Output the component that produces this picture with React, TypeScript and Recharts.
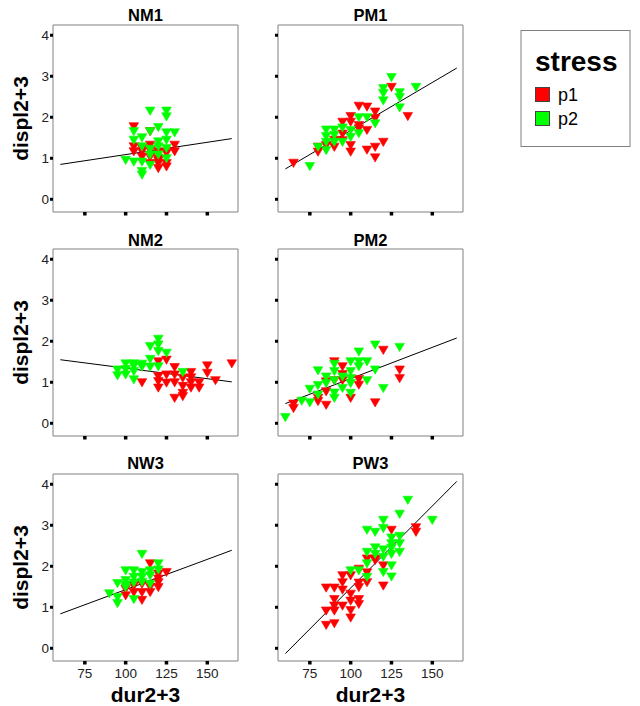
import React from 'react'
import { ComposedChart, Scatter, Line, XAxis, YAxis, ReferenceArea } from 'recharts'

const FONT = '"Liberation Sans", Arial, Helvetica, sans-serif'

const panelNames = ['NM1', 'PM1', 'NM2', 'PM2', 'NW3', 'PW3']
const groupNames = ['p1', 'p2']
const groupColors = ['#ff0000', '#00ff00']
const xTicks = [75, 100, 125, 150]
const yTicks = [0, 1, 2, 3, 4]
const xTitle = 'dur2+3'
const yTitle = 'displ2+3'
const legendTitle = 'stress'

// fitted line, value at dur = 60 and dur = 165
const fitX = [60, 165]
const fitAt60 = [0.85, 0.74, 1.55, 0.48, 0.84, -0.13]
const fitAt165 = [1.48, 3.2, 1.01, 2.08, 2.39, 4.07]

// [dur2+3, displ2+3]
const nm1P1 = [[105,1.78],[105,1.29],[105,1.17],[110,1.17],[115,1.33],[115,1.66],[120,1.17],[120,0.88],[120,0.76],[125,0.88],[125,1.13],[130,1.33],[130,1.17],[115,1.04],[110,1.04],[115,0.88],[125,0.8],[120,1.0],[110,1.25],[115,1.2],[120,0.95]]
const nm1P2 = [[115,2.16],[125,2.16],[125,2.02],[120,1.76],[130,1.63],[125,1.63],[115,1.66],[105,1.66],[105,1.45],[110,1.51],[120,1.41],[125,1.45],[110,1.29],[115,1.23],[120,1.29],[125,1.25],[100,0.96],[105,0.92],[110,0.92],[110,0.69],[110,0.6],[115,0.84],[115,1.09],[120,1.09],[125,1.0]]
const pm1P1 = [[65,0.89],[80,1.28],[80,1.16],[85,1.32],[90,1.28],[95,1.44],[95,1.89],[100,2.03],[100,1.89],[100,1.32],[100,1.16],[105,2.28],[105,1.81],[110,2.26],[110,1.69],[110,1.21],[115,2.14],[115,1.98],[115,1.28],[115,1.02],[120,1.4],[125,2.74],[135,2.03],[105,1.73],[95,1.6],[90,1.45]]
const pm1P2 = [[75,0.81],[125,2.98],[120,2.71],[120,2.59],[120,2.41],[130,2.61],[130,2.49],[130,2.24],[140,2.74],[105,2.0],[110,2.0],[115,1.85],[85,1.7],[90,1.7],[95,1.75],[85,1.54],[90,1.57],[85,1.4],[90,1.4],[95,1.4],[100,1.52],[105,1.61],[80,1.28],[85,1.2],[100,1.69]]
const nm2P1 = [[110,1.0],[120,1.51],[120,0.87],[125,1.55],[125,0.99],[130,1.37],[130,1.19],[130,1.0],[130,0.62],[135,1.11],[135,0.91],[135,0.74],[135,0.66],[140,1.25],[140,1.0],[140,0.87],[145,1.0],[145,0.87],[150,1.41],[150,1.23],[155,1.05],[165,1.46],[125,1.19],[120,1.15],[120,1.03],[140,1.12]]
const nm2P2 = [[95,1.31],[95,1.17],[100,1.46],[100,1.19],[105,1.46],[105,1.27],[105,1.07],[110,1.38],[115,1.88],[115,1.57],[115,1.38],[120,2.06],[120,1.92],[120,1.76],[120,1.39],[125,1.72],[135,1.25],[100,1.32],[110,1.45],[105,1.4]]
const pm2P1 = [[65,0.48],[65,0.37],[80,0.54],[85,0.78],[85,0.45],[90,1.51],[95,1.39],[95,1.05],[100,0.62],[105,1.08],[105,0.94],[115,0.51],[120,1.79],[130,1.31],[130,1.1],[85,1.02],[90,1.05],[80,0.62],[95,1.2]]
const pm2P2 = [[60,0.15],[70,0.55],[75,0.51],[75,0.84],[80,0.93],[80,1.29],[80,0.7],[85,1.14],[85,0.98],[90,1.45],[90,1.27],[90,0.75],[90,0.62],[95,1.14],[95,0.86],[100,1.51],[100,1.27],[100,0.98],[100,0.74],[105,1.75],[105,1.51],[105,1.39],[110,1.51],[110,1.05],[115,1.92],[115,1.31],[120,0.86],[130,1.86],[100,1.1],[90,1.05]]
const nw3P1 = [[100,1.29],[105,1.37],[110,1.18],[110,1.37],[115,1.37],[115,2.07],[120,1.82],[120,1.61],[120,1.49],[125,1.86],[110,1.57],[105,1.53],[115,1.5],[100,1.45],[120,1.7]]
const nw3P2 = [[90,1.34],[95,1.59],[95,1.25],[95,1.1],[100,1.9],[100,1.66],[100,1.49],[105,1.9],[105,1.2],[105,1.74],[110,2.3],[110,1.86],[110,1.74],[115,1.9],[115,1.78],[115,1.57],[120,2.07],[120,1.92],[105,1.6],[110,1.62],[100,1.55]]
const pw3P1 = [[140,2.95],[140,2.84],[125,2.89],[115,2.19],[110,2.19],[120,2.02],[115,2.15],[105,1.94],[95,1.78],[95,1.61],[100,1.78],[85,1.48],[90,1.48],[105,1.49],[110,1.61],[120,1.53],[95,1.43],[100,1.33],[100,1.16],[105,1.2],[105,1.08],[90,1.2],[90,1.04],[85,0.92],[95,1.04],[100,0.93],[100,0.75],[85,0.57],[90,0.61],[90,0.92],[110,1.85],[105,1.6]]
const pw3P2 = [[135,3.62],[150,3.13],[120,3.13],[130,3.28],[110,2.89],[115,2.84],[120,2.93],[125,2.7],[130,2.74],[130,2.56],[125,2.56],[115,2.46],[120,2.41],[110,2.35],[125,2.3],[130,2.35],[120,2.23],[110,2.07],[125,2.02],[120,1.86],[125,1.75],[100,1.9],[105,1.9],[110,1.74],[115,2.3],[125,2.45]]

const panelPoints = [
  [nm1P1, nm1P2],
  [pm1P1, pm1P2],
  [nm2P1, nm2P2],
  [pm2P1, pm2P2],
  [nw3P1, nw3P2],
  [pw3P1, pw3P2],
]

const X_DOMAIN = [55.5, 168.8]
const Y_DOMAIN = [-0.31, 4.25]
const COL_LEFT = [53, 278]
const ROW_TOP = [25, 249, 474]
const PW = 185
const PH = 187
const TITLE_BASE = [21, 246, 469]
// chart offsets of the plot area inside each little chart
const OX = 53
const OY = 5

const Triangle = (props: any) => {
  const { cx, cy, fill } = props
  if (cx == null || cy == null) return null
  return (
    <path
      d={`M${cx - 4.8},${cy - 3.6} L${cx + 4.8},${cy - 3.6} L${cx},${cy + 4.6} Z`}
      fill={fill}
      stroke={fill}
      strokeWidth={0.6}
    />
  )
}

const yTick = (show: boolean) => (props: any) => {
  const { y, payload } = props
  return (
    <g>
      <rect x={OX - 3} y={y - 1.5} width={3} height={3} fill="#000" />
      {show && (
        <text x={OX - 4} y={y + 4.8} textAnchor="end" fontSize={13.5} fontFamily={FONT} fill="#222">
          {payload.value}
        </text>
      )}
    </g>
  )
}

const xTick = (show: boolean) => (props: any) => {
  const { x, payload } = props
  return (
    <g>
      <rect x={x - 1.75} y={OY + PH} width={3.5} height={3.5} fill="#000" />
      {show && (
        <text x={x} y={OY + PH + 17} textAnchor="middle" fontSize={13.5} fontFamily={FONT} fill="#222">
          {payload.value}
        </text>
      )}
    </g>
  )
}

function Panel({ idx }: { idx: number }) {
  const col = idx % 2
  const row = Math.floor(idx / 2)
  const fit = fitX.map((x, i) => ({ x, y: i === 0 ? fitAt60[idx] : fitAt165[idx] }))
  return (
    <div style={{ position: 'absolute', left: COL_LEFT[col] - OX, top: ROW_TOP[row] - OY }}>
      <ComposedChart width={OX + PW + 5} height={OY + PH + 30} margin={{ top: OY, right: 5, left: 0, bottom: 0 }}>
        <XAxis
          type="number"
          dataKey="x"
          domain={X_DOMAIN}
          ticks={xTicks}
          interval={0}
          height={30}
          axisLine={false}
          tickLine={false}
          allowDataOverflow
          tick={xTick(row === 2)}
        />
        <YAxis
          type="number"
          dataKey="y"
          domain={Y_DOMAIN}
          ticks={yTicks}
          interval={0}
          width={OX}
          axisLine={false}
          tickLine={false}
          allowDataOverflow
          tick={yTick(col === 0)}
        />
        <ReferenceArea
          x1={X_DOMAIN[0]}
          x2={X_DOMAIN[1]}
          y1={Y_DOMAIN[0]}
          y2={Y_DOMAIN[1]}
          fill="#ffffff"
          fillOpacity={0}
          stroke="#808080"
          strokeWidth={1}
          strokeOpacity={1}
        />
        {panelPoints[idx].map((pts, g) => (
          <Scatter
            key={groupNames[g]}
            name={groupNames[g]}
            data={pts.map(([x, y]) => ({ x, y }))}
            fill={groupColors[g]}
            shape={Triangle}
            isAnimationActive={false}
          />
        ))}
        <Line
          data={fit}
          dataKey="y"
          type="linear"
          stroke="#000"
          strokeWidth={1}
          dot={false}
          activeDot={false}
          isAnimationActive={false}
        />
      </ComposedChart>
    </div>
  )
}

export default function App() {
  return (
    <div style={{ position: 'absolute', left: 0, top: 0, width: 640, height: 706, background: '#fff', fontFamily: FONT }}>
      <svg width={640} height={706} style={{ position: 'absolute', left: 0, top: 0 }}>
        {panelNames.map((name, i) => (
          <text
            key={name}
            x={COL_LEFT[i % 2] + PW / 2}
            y={TITLE_BASE[Math.floor(i / 2)]}
            textAnchor="middle"
            fontSize={16.5}
            fontWeight="bold"
            fontFamily={FONT}
            fill="#000"
          >
            {name}
          </text>
        ))}
        {ROW_TOP.map((t, r) => (
          <text
            key={'yl' + r}
            transform={`translate(28, ${t + PH / 2}) rotate(-90)`}
            textAnchor="middle"
            fontSize={21}
            fontWeight="bold"
            fontFamily={FONT}
            fill="#000"
          >
            {yTitle}
          </text>
        ))}
        {COL_LEFT.map((l, c) => (
          <text
            key={'xl' + c}
            x={l + PW / 2}
            y={702}
            textAnchor="middle"
            fontSize={21}
            fontWeight="bold"
            fontFamily={FONT}
            fill="#000"
          >
            {xTitle}
          </text>
        ))}
        <rect x={521} y={30.5} width={109} height={116} fill="#fff" stroke="#808080" strokeWidth={1} />
        <text x={535} y={71} fontSize={28} fontWeight="bold" fontFamily={FONT} fill="#000">
          {legendTitle}
        </text>
        {groupNames.map((g, i) => (
          <g key={g}>
            <rect x={535.5} y={87.5 + i * 24} width={14} height={14} fill={groupColors[i]} stroke="#444" strokeWidth={1} />
            <text x={558} y={101 + i * 24} fontSize={18} fontFamily={FONT} fill="#000">
              {g}
            </text>
          </g>
        ))}
      </svg>
      {panelNames.map((_, i) => (
        <Panel key={i} idx={i} />
      ))}
    </div>
  )
}
